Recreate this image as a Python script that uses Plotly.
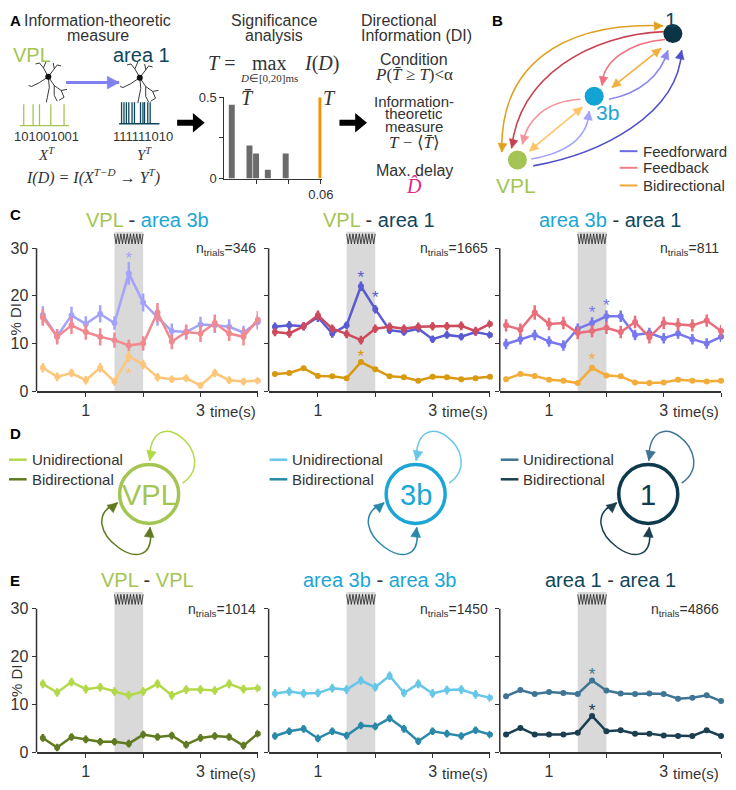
import math
import plotly.graph_objects as go

# page is 736x790, the html body keeps an 8px margin, so the figure itself is 728x782
W, H = 736, 790
OFF = 8
FW, FH = W - OFF, H - OFF
SANS = "Liberation Sans, Arial, sans-serif"
SERIF = "Liberation Serif, Times New Roman, serif"
INK = "#333333"
VPL_G = "#a5c553"
B3_C = "#1ba6d6"
A1_D = "#0f465b"

# ---------------- data ----------------
t = [0.25, 0.5, 0.75, 1.0, 1.25, 1.5, 1.75, 2.0, 2.25, 2.5, 2.75, 3.0, 3.25, 3.5, 3.75, 4.0]
stim_on, stim_off = 1.5, 2.0

# panel C, VPL - area 3b
c1_ff = [16.0, 11.5, 15.9, 14.1, 16.2, 14.3, 24.7, 18.6, 15.5, 12.6, 12.4, 14.0, 13.8, 13.5, 12.3, 14.5]
c1_ff_err = [1.8, 1.5, 1.8, 1.6, 1.8, 1.4, 2.4, 1.9, 1.8, 1.6, 1.4, 1.6, 1.6, 1.6, 1.4, 1.6]
c1_fb = [15.5, 11.4, 13.8, 12.4, 11.4, 10.7, 9.6, 10.0, 16.5, 10.4, 12.4, 12.1, 14.3, 12.1, 11.4, 15.0]
c1_fb_err = [1.8, 1.6, 1.8, 1.6, 1.8, 1.6, 1.2, 1.5, 2.0, 1.6, 1.6, 1.8, 1.8, 1.6, 1.8, 1.8]
c1_bi = [4.9, 3.0, 3.8, 2.3, 4.9, 2.0, 7.3, 5.6, 2.9, 2.5, 2.7, 1.2, 3.8, 2.3, 2.0, 2.2]
c1_bi_err = [1.0, 0.9, 0.9, 0.9, 1.0, 0.8, 1.2, 1.0, 0.9, 0.8, 0.8, 0.7, 0.9, 0.8, 0.8, 0.8]
c1_star_t = [1.75, 1.75]
c1_star_y = [28.5, 4.1]
c1_star_s = [0, 2]

# panel C, VPL - area 1
c2_ff = [13.5, 13.8, 13.6, 15.5, 12.1, 13.8, 22.0, 17.2, 12.8, 12.4, 13.1, 10.9, 11.8, 11.4, 12.4, 11.8]
c2_ff_err = [0.9, 0.9, 0.8, 1.0, 0.9, 0.8, 1.0, 0.9, 0.8, 0.8, 0.8, 0.8, 0.8, 0.8, 0.8, 0.8]
c2_fb = [12.4, 12.1, 13.6, 15.9, 13.1, 12.0, 10.7, 13.1, 13.5, 13.1, 13.5, 13.6, 13.6, 13.7, 12.6, 14.1]
c2_fb_err = [0.9, 0.9, 0.9, 1.0, 0.9, 0.9, 0.9, 0.9, 0.9, 0.9, 0.9, 0.9, 0.9, 0.9, 0.9, 0.9]
c2_bi = [3.6, 3.8, 4.8, 3.2, 3.1, 2.7, 6.1, 4.6, 3.1, 2.9, 2.2, 3.0, 2.9, 2.5, 2.7, 3.0]
c2_bi_err = [0.4, 0.4, 0.4, 0.4, 0.4, 0.4, 0.5, 0.4, 0.4, 0.4, 0.4, 0.4, 0.4, 0.4, 0.4, 0.4]
c2_star_t = [1.75, 2.0, 1.75]
c2_star_y = [24.5, 20.3, 7.9]
c2_star_s = [0, 0, 2]

# panel C, area 3b - area 1
c3_ff = [9.9, 10.9, 11.8, 10.4, 9.6, 13.1, 14.3, 15.7, 15.7, 11.8, 12.2, 11.1, 12.1, 10.9, 10.0, 11.4]
c3_ff_err = [1.1, 1.1, 1.1, 1.1, 1.1, 1.1, 1.2, 1.2, 1.2, 1.1, 1.1, 1.1, 1.1, 1.1, 1.1, 1.1]
c3_fb = [13.8, 12.9, 16.5, 14.1, 14.3, 12.2, 12.6, 13.3, 12.4, 14.5, 11.3, 14.3, 14.0, 13.8, 14.8, 12.6]
c3_fb_err = [1.3, 1.3, 1.5, 1.3, 1.3, 1.3, 1.3, 1.3, 1.3, 1.3, 1.3, 1.3, 1.3, 1.3, 1.3, 1.3]
c3_bi = [2.5, 3.6, 3.2, 2.4, 2.2, 1.7, 4.9, 3.3, 3.1, 1.8, 1.7, 1.8, 2.4, 2.2, 2.0, 2.2]
c3_bi_err = [0.5, 0.5, 0.5, 0.5, 0.5, 0.5, 0.6, 0.5, 0.5, 0.5, 0.5, 0.5, 0.5, 0.5, 0.5, 0.5]
c3_star_t = [1.75, 2.0, 1.75]
c3_star_y = [17.2, 18.6, 7.2]
c3_star_s = [0, 0, 2]

# panel E, within-area DI
e1_uni = [14.3, 12.5, 14.7, 13.2, 13.6, 12.7, 11.9, 12.7, 14.3, 11.9, 13.1, 13.1, 12.9, 14.3, 13.2, 13.4]
e1_uni_err = [0.9] * 16
e1_bi = [3.0, 1.0, 3.2, 2.7, 2.2, 2.2, 1.8, 3.7, 3.2, 3.5, 1.6, 3.0, 3.4, 3.2, 1.4, 3.9]
e1_bi_err = [0.8] * 16
e2_uni = [12.3, 12.7, 12.3, 12.4, 13.4, 13.1, 15.0, 13.6, 16.0, 12.4, 14.3, 12.3, 13.0, 13.1, 12.1, 11.4]
e2_uni_err = [0.9] * 16
e2_bi = [3.4, 4.4, 4.9, 2.9, 4.4, 3.5, 5.6, 5.4, 7.1, 4.9, 2.3, 4.4, 3.9, 3.4, 4.6, 3.7]
e2_bi_err = [0.8] * 16
e3_uni = [11.7, 13.0, 12.2, 12.6, 12.4, 12.2, 15.0, 12.9, 12.3, 12.2, 12.3, 12.2, 11.2, 11.4, 11.9, 10.7]
e3_uni_err = [0.3] * 16
e3_bi = [3.7, 5.1, 3.7, 3.7, 3.7, 4.1, 7.6, 4.4, 4.6, 3.9, 3.9, 3.5, 3.4, 3.4, 4.6, 3.4]
e3_bi_err = [0.25] * 16
e3_star_t = [1.75, 1.75]
e3_star_y = [16.8, 9.3]
e3_star_s = [0, 1]

ntrials_c = [346, 1665, 811]
ntrials_e = [1014, 1450, 4866]

# panel A histogram of surrogate values
hist_x = [0.0046, 0.0156, 0.0197, 0.0270, 0.0381]
hist_h = [0.454, 0.204, 0.154, 0.054, 0.154]
t_obs = 0.0594
t_obs_h = 0.5

vpl_bits = "101001001"
area1_bits = "111111010"
vpl_spikes_ms = [8, 27, 40, 63, 90]
area1_spikes_ms = [6, 12, 18, 24, 32, 38, 53, 59, 63, 71, 77]

# colours
C_COL = [("#a3a3fb", "#f18a90", "#fec67a"),
         ("#5a5ad2", "#cc4a5c", "#d8990f"),
         ("#7878ee", "#e96e7b", "#f3ac3a")]
E_COL = [("#b3d94a", "#5f7a20"),
         ("#67c7e8", "#2a89aa"),
         ("#3f7594", "#1b3e50")]

# ---------------- helpers ----------------
fig = go.Figure()
shapes = []
annotations = []


def xdom(a, b):
    return [(a - OFF) / FW, (b - OFF) / FW]


def ydom(top, bot):
    return [1 - (bot - OFF) / FH, 1 - (top - OFF) / FH]


def ann(x, y, text, size=16, color=INK, family=SANS, xanchor="center", **kw):
    annotations.append(dict(x=x, y=y, xref="x8", yref="y8", text=text, showarrow=False,
                            xanchor=xanchor, yanchor="middle",
                            font=dict(size=size, color=color, family=family), **kw))


def bez(p0, c1, c2, p1, s):
    u = 1 - s
    return (u ** 3 * p0[0] + 3 * u * u * s * c1[0] + 3 * u * s * s * c2[0] + s ** 3 * p1[0],
            u ** 3 * p0[1] + 3 * u * u * s * c1[1] + 3 * u * s * s * c2[1] + s ** 3 * p1[1])


def head(tip, frm, color, length=9, half=4.5):
    dx, dy = tip[0] - frm[0], tip[1] - frm[1]
    d = math.hypot(dx, dy)
    ux, uy = dx / d, dy / d
    bx, by = tip[0] - ux * length, tip[1] - uy * length
    nx, ny = -uy * half, ux * half
    shapes.append(dict(type="path", xref="x8", yref="y8", layer="below",
                       path=f"M {tip[0]:.1f},{tip[1]:.1f} L {bx + nx:.1f},{by + ny:.1f} L {bx - nx:.1f},{by - ny:.1f} Z",
                       fillcolor=color, line=dict(color=color, width=0.5)))


def curve(p0, c1, c2, p1, color, width=1.6, start=False, end=True, length=9, half=4.5):
    shapes.append(dict(type="path", xref="x8", yref="y8", layer="below",
                       path=f"M {p0[0]},{p0[1]} C {c1[0]},{c1[1]} {c2[0]},{c2[1]} {p1[0]},{p1[1]}",
                       line=dict(color=color, width=width)))
    if end:
        head(p1, bez(p0, c1, c2, p1, 0.85), color, length, half)
    if start:
        head(p0, bez(p0, c1, c2, p1, 0.15), color, length, half)


def straight(p0, p1, color, width=1.6, start=False, end=True, length=9, half=4.5):
    shapes.append(dict(type="line", xref="x8", yref="y8", layer="below",
                       x0=p0[0], y0=p0[1], x1=p1[0], y1=p1[1], line=dict(color=color, width=width)))
    if end:
        head(p1, p0, color, length, half)
    if start:
        head(p0, p1, color, length, half)


def two_tone(parts):
    (a, ca), (b, cb) = parts
    return f'<span style="color:{ca}">{a}</span> - <span style="color:{cb}">{b}</span>'


# ---------------- time-course panels C and E ----------------
cols = [(37, 262), (273, 498), (508, 733)]
rows = [(229, 392), (597, 760.7)]

panels = [
    dict(series=[(c1_ff, c1_ff_err), (c1_fb, c1_fb_err), (c1_bi, c1_bi_err)], colors=C_COL[0],
         stars=(c1_star_t, c1_star_y, c1_star_s), title=[("VPL", VPL_G), ("area 3b", B3_C)], n=ntrials_c[0]),
    dict(series=[(c2_ff, c2_ff_err), (c2_fb, c2_fb_err), (c2_bi, c2_bi_err)], colors=C_COL[1],
         stars=(c2_star_t, c2_star_y, c2_star_s), title=[("VPL", VPL_G), ("area 1", A1_D)], n=ntrials_c[1]),
    dict(series=[(c3_ff, c3_ff_err), (c3_fb, c3_fb_err), (c3_bi, c3_bi_err)], colors=C_COL[2],
         stars=(c3_star_t, c3_star_y, c3_star_s), title=[("area 3b", B3_C), ("area 1", A1_D)], n=ntrials_c[2]),
    dict(series=[(e1_uni, e1_uni_err), (e1_bi, e1_bi_err)], colors=E_COL[0],
         stars=None, title=[("VPL", VPL_G), ("VPL", VPL_G)], n=ntrials_e[0]),
    dict(series=[(e2_uni, e2_uni_err), (e2_bi, e2_bi_err)], colors=E_COL[1],
         stars=None, title=[("area 3b", B3_C), ("area 3b", B3_C)], n=ntrials_e[1]),
    dict(series=[(e3_uni, e3_uni_err), (e3_bi, e3_bi_err)], colors=E_COL[2],
         stars=(e3_star_t, e3_star_y, e3_star_s), title=[("area 1", A1_D), ("area 1", A1_D)], n=ntrials_e[2]),
]

layout_axes = {}
STAR_DROP = 0.9
for i, p in enumerate(panels):
    r, c = divmod(i, 3)
    n = "" if i == 0 else str(i + 1)
    xa, ya = "x" + n, "y" + n
    top, bot = rows[r]
    layout_axes["xaxis" + n] = dict(domain=xdom(*cols[c]), range=[0.14, 4.0], anchor=ya,
                                    tickvals=[1, 3], ticks="outside", ticklen=4, tickcolor=INK,
                                    minor=dict(tickvals=[2, 4], ticks="outside", ticklen=4, tickcolor=INK),
                                    showline=True, linecolor=INK, linewidth=1.5, showgrid=False,
                                    zeroline=False, tickfont=dict(size=16, color=INK, family=SANS),
                                    fixedrange=True)
    layout_axes["yaxis" + n] = dict(domain=ydom(top, bot), range=[0, 33.5], anchor=xa,
                                    tickvals=[0, 10, 20, 30], ticks="outside", ticklen=4,
                                    tickcolor=INK, showticklabels=(c == 0), showline=False,
                                    showgrid=False, zeroline=False,
                                    tickfont=dict(size=16, color=INK, family=SANS), fixedrange=True)
    # stimulus band and vibration icon
    shapes.append(dict(type="rect", xref=xa, yref=ya, x0=stim_on, x1=stim_off, y0=0, y1=33.5,
                       fillcolor="#d9d9d9", line=dict(width=0), layer="below"))
    zz = []
    for k in range(19):
        zz.append(f"{stim_on + (stim_off - stim_on) * k / 18:.4f},{33.0 if k % 2 == 0 else 30.9}")
    shapes.append(dict(type="path", xref=xa, yref=ya, path="M " + " L ".join(zz),
                       line=dict(color="#222222", width=0.8)))
    # y axis line up to 30 only
    shapes.append(dict(type="line", xref=xa + " domain", yref=ya, x0=0, x1=0, y0=0, y1=30,
                       line=dict(color=INK, width=1.5)))

    for (vals, err), col in zip(p["series"], p["colors"]):
        fig.add_trace(go.Scatter(x=t, y=vals, mode="lines+markers", xaxis=xa, yaxis=ya,
                                 line=dict(color=col, width=2.5), marker=dict(color=col, size=6),
                                 error_y=dict(type="data", array=err, color=col, thickness=2.5, width=0),
                                 cliponaxis=False, hoverinfo="skip"))
    if p["stars"]:
        st, sy, ss = p["stars"]
        fig.add_trace(go.Scatter(x=st, y=[v - STAR_DROP for v in sy], mode="text", text=["*"] * len(st),
                                 textfont=dict(size=17, color=[p["colors"][s] for s in ss], family=SANS),
                                 xaxis=xa, yaxis=ya, cliponaxis=False, hoverinfo="skip"))

    title_y = 217 if r == 0 else 585
    annotations.append(dict(xref=xa + " domain", yref="y8", x=0.5, y=title_y, text=two_tone(p["title"]),
                            showarrow=False, font=dict(size=20, color=INK, family=SANS)))
    annotations.append(dict(xref=xa + " domain", yref="y8", x=1.0, y=(247 if r == 0 else 615),
                            xanchor="right", text=f"n<sub>trials</sub>={p['n']}", showarrow=False,
                            font=dict(size=14, color=INK, family=SANS)))
    annotations.append(dict(xref=xa + " domain", yref="y8", x=1.0, y=(413 if r == 0 else 782),
                            xanchor="right", text="time(s)", showarrow=False,
                            font=dict(size=15, color=INK, family=SANS)))

ann(16, 318, "% DI", size=15, textangle=-90)
ann(16, 687, "% DI", size=15, textangle=-90)

# ---------------- panel A ----------------
ann(8, 14, "<b>A</b>", size=15, color="black", xanchor="left")
ann(99, 14, "Information-theoretic")
ann(99, 29, "measure")
ann(278, 14, "Significance")
ann(278, 29, "analysis")
ann(365, 14, "Directional", xanchor="left")
ann(365, 29, "Information (DI)", xanchor="left")

ann(32, 49, "VPL", size=20, color=VPL_G)
ann(144, 49, "area 1", size=20, color=A1_D)

neuron_branches = [
    [(0, 0), (-5, -9), (-9, -14), (-13, -13)],
    [(-5, -9), (-2, -16)],
    [(0, 0), (6, -8), (9, -12), (13, -11)],
    [(6, -8), (5, -14)],
    [(0, 0), (-9, 6), (-17, 10), (-20, 9)],
    [(0, 0), (6, 9), (13, 14), (16, 21), (11, 24)],
    [(13, 14), (19, 13)],
    [(0, 0), (1, 11), (-1, 21), (-2, 26)],
    [(6, 9), (6, 19), (9, 25)],
]
for cx, cy in [(49, 71), (142, 72)]:
    xs, ys = [], []
    for br in neuron_branches:
        xs += [cx + dx for dx, dy in br] + [None]
        ys += [cy + dy for dx, dy in br] + [None]
    fig.add_trace(go.Scatter(x=xs, y=ys, mode="lines", line=dict(color="#222222", width=0.9),
                             xaxis="x8", yaxis="y8", hoverinfo="skip"))
    fig.add_trace(go.Scatter(x=[cx], y=[cy], mode="markers", marker=dict(color="#111111", size=6),
                             xaxis="x8", yaxis="y8", hoverinfo="skip"))

straight((67, 77), (121, 77), "#8080f0", width=3, length=12, half=6.5)


def spike_train(ms, x0, x1, base, height, color):
    xs, ys = [x0, x1, None], [base, base, None]
    for m in ms:
        x = x0 + (x1 - x0) * m / 100
        xs += [x, x, None]
        ys += [base, base - height, None]
    fig.add_trace(go.Scatter(x=xs, y=ys, mode="lines", line=dict(color=color, width=1.3),
                             xaxis="x8", yaxis="y8", hoverinfo="skip"))


spike_train(vpl_spikes_ms, 20, 70, 121, 22, VPL_G)
spike_train(area1_spikes_ms, 121, 162, 119, 22, A1_D)

ann(47, 132, vpl_bits, size=13)
ann(145, 132, area1_bits, size=13)
ann(47, 150, "<i>X<sup>T</sup></i>", size=15, family=SERIF)
ann(147, 150, "<i>Y<sup>T</sup></i>", size=15, family=SERIF)
ann(94, 173, "<i>I(D) = I(X<sup>T\u2212D</sup> \u2192 Y<sup>T</sup>)</i>", size=16, family=SERIF)

for x0, xh, x1 in [(180, 196, 208), (345, 361, 373)]:
    y = 118
    shapes.append(dict(type="path", xref="x8", yref="y8", fillcolor="black", line=dict(width=0),
                       path=f"M {x0},{y - 3} L {xh},{y - 3} L {xh},{y - 10} L {x1},{y} L {xh},{y + 10} L {xh},{y + 3} L {x0},{y + 3} Z"))

ann(225, 57, "<i>T</i> =", size=20, family=SERIF)
ann(273, 57, "max", size=20, family=SERIF)
ann(327, 57, "<i>I</i>(<i>D</i>)", size=20, family=SERIF)
ann(273, 72, "<i>D</i>\u2208[0,20]ms", size=11, family=SERIF)

fig.add_trace(go.Bar(x=hist_x, y=hist_h, width=0.0037, marker=dict(color="#6b6b6b", line=dict(width=0)),
                     xaxis="x7", yaxis="y7", hoverinfo="skip"))
fig.add_trace(go.Scatter(x=[t_obs, t_obs], y=[0, t_obs_h], mode="lines", line=dict(color="#f39200", width=3),
                         xaxis="x7", yaxis="y7", hoverinfo="skip"))
ann(252, 93, "<i>T\u0304</i>", size=20, family=SERIF)
ann(335, 93, "<i>T</i>", size=20, family=SERIF)

ann(421, 53, "Condition")
ann(421, 69, "<i>P</i>(<i>T\u0304</i> \u2265 <i>T</i>)<\u03b1", size=17, family=SERIF)
ann(421, 96, "Information-", size=15)
ann(421, 109, "theoretic", size=15)
ann(421, 122, "measure", size=15)
ann(421, 138, "<i>T</i> \u2212 \u27e8<i>T\u0304</i>\u27e9", size=17, family=SERIF)
ann(421, 167, "Max. delay")
ann(421, 183, "<i>D\u0302</i>", size=20, color="#e0268b", family=SERIF)

# ---------------- panel B ----------------
ann(498, 14, "<b>B</b>", size=15, color="black", xanchor="left")
n1, n3, nv = (684, 27), (604, 91), (526, 156)

curve((510, 148), (508, 60), (570, 15), (674, 19), "#e0a020", start=True)
curve((675, 25), (600, 28), (528, 70), (520, 144), "#c84050")
curve((676, 33), (640, 36), (612, 55), (612, 80), "#f07080")
straight((622, 82), (672, 42), "#f2b040", start=True)
curve((619, 94), (650, 88), (672, 70), (679, 44), "#8a8af0")
curve((542, 162), (610, 150), (690, 110), (693, 44), "#5050c8")
curve((590, 94), (555, 96), (535, 115), (531, 140), "#f3959c")
straight((538, 147), (592, 102), "#ffc466", start=True)
curve((540, 155), (580, 148), (598, 130), (599, 106), "#a2a2ff")

fig.add_trace(go.Scatter(x=[n1[0], n3[0], nv[0]], y=[n1[1], n3[1], nv[1]], mode="markers",
                         marker=dict(size=19, color=["#0b3545", "#12a5d3", "#a3c452"]),
                         xaxis="x8", yaxis="y8", hoverinfo="skip"))
ann(682, 13, "1", size=21, color=A1_D)
ann(618, 108, "3b", size=21, color=B3_C)
ann(525, 182, "VPL", size=21, color=VPL_G)

for y, col, txt in [(147, "#6b6be8", "Feedforward"), (164, "#f07f8a", "Feedback"), (182, "#f2a93b", "Bidirectional")]:
    shapes.append(dict(type="line", xref="x8", yref="y8", x0=630, x1=648, y0=y, y1=y,
                       line=dict(color=col, width=2)))
    ann(652, y, txt, size=15, xanchor="left")

# ---------------- panel D ----------------
ann(8, 435, "<b>D</b>", size=15, color="black", xanchor="left")
nodes_d = [(151.5, "VPL", VPL_G, E_COL[0], 9), (422.5, "3b", B3_C, E_COL[1], 274), (659, "1", "#0e3a4e", E_COL[2], 509)]
cy = 497
for cx, label, col, (cu, cb), lx in nodes_d:
    shapes.append(dict(type="circle", xref="x8", yref="y8", x0=cx - 30, x1=cx + 30, y0=cy - 30, y1=cy + 30,
                       line=dict(color=col, width=3.5)))
    ann(cx, cy + 1, label, size=29, color=col)
    curve((cx + 34, cy - 11), (cx + 75, cy - 40), (cx, cy - 100), (cx + 0.5, cy - 34), cu,
          width=1.5, length=10, half=5)
    curve((cx - 32, cy + 9), (cx - 85, cy + 30), (cx + 10, cy + 100), (cx + 1, cy + 34), cb,
          width=1.5, start=True, length=10, half=5)
    for y, lc, txt in [(462, cu, "Unidirectional"), (482, cb, "Bidirectional")]:
        shapes.append(dict(type="line", xref="x8", yref="y8", x0=lx, x1=lx + 18, y0=y, y1=y,
                           line=dict(color=lc, width=2.5)))
        ann(lx + 21, y, txt, size=15, xanchor="left")

ann(8, 212, "<b>C</b>", size=15, color="black", xanchor="left")
ann(8, 585, "<b>E</b>", size=15, color="black", xanchor="left")

# ---------------- layout ----------------
fig.update_layout(
    width=FW, height=FH, margin=dict(l=0, r=0, t=0, b=0),
    paper_bgcolor="white", plot_bgcolor="rgba(0,0,0,0)", showlegend=False,
    font=dict(family=SANS, color=INK),
    xaxis7=dict(domain=xdom(228, 327), range=[0, 0.0605], anchor="y7", tickvals=[0.06],
                minor=dict(tickvals=[0.02, 0.04], ticks="outside", ticklen=4, tickcolor=INK),
                ticks="outside", ticklen=4, tickcolor=INK, showline=True,
                linecolor=INK, linewidth=1, showgrid=False, zeroline=False,
                tickfont=dict(size=13, color=INK), fixedrange=True),
    yaxis7=dict(domain=ydom(92, 175), range=[0, 0.5], anchor="x7", tickvals=[0, 0.5],
                ticktext=["0", "0.5"],
                minor=dict(tickvals=[0.25], ticks="outside", ticklen=4, tickcolor=INK),
                ticks="outside", ticklen=4, tickcolor=INK, showline=True,
                linecolor=INK, linewidth=1, showgrid=False, zeroline=False,
                tickfont=dict(size=13, color=INK), fixedrange=True),
    xaxis8=dict(domain=[0, 1], range=[OFF, W], visible=False, fixedrange=True, anchor="y8"),
    yaxis8=dict(domain=[0, 1], range=[H, OFF], visible=False, fixedrange=True, anchor="x8"),
    shapes=shapes, annotations=annotations,
    **layout_axes,
)

fig.write_html("out.html")
